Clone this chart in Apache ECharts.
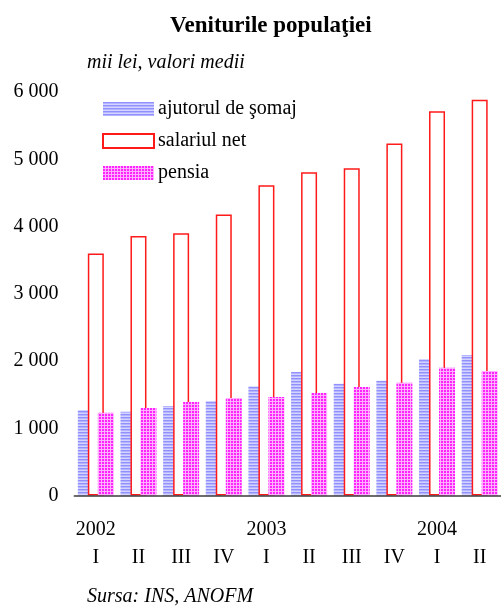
<!DOCTYPE html>
<html>
<head>
<meta charset="utf-8">
<script src="https://cdn.jsdelivr.net/npm/echarts@6/dist/echarts.min.js"></script>
<style>html,body{margin:0;padding:0;background:#fff}#c{width:501px;height:607px}</style>
</head>
<body>
<div id="c"></div>
<script>
var years = ['2002', '', '', '', '2003', '', '', '', '2004', ''];
var quarters = ['I', 'II', 'III', 'IV', 'I', 'II', 'III', 'IV', 'I', 'II'];
var ajutorul = [1270, 1245, 1330, 1405, 1625, 1835, 1660, 1705, 2030, 2090];
var salariul = [3600, 3860, 3900, 4180, 4615, 4805, 4865, 5235, 5715, 5885];
var pensia = [1230, 1300, 1390, 1450, 1465, 1525, 1615, 1675, 1900, 1850];
var yTicks = [0, 1000, 2000, 3000, 4000, 5000, 6000];

var categories = years.map(function (y, i) { return i + '|' + y + '|' + quarters[i]; });

function stripePattern() {
  var c = document.createElement('canvas');
  c.width = 4; c.height = 3;
  var g = c.getContext('2d');
  g.fillStyle = '#d4d4ff'; g.fillRect(0, 0, 4, 3);
  g.fillStyle = '#9090ff'; g.fillRect(0, 0, 4, 1);
  g.fillStyle = '#b4b4ff'; g.fillRect(0, 1, 4, 1);
  return c;
}
function gridPattern() {
  var c = document.createElement('canvas');
  c.width = 3; c.height = 3;
  var g = c.getContext('2d');
  g.fillStyle = '#ffb0ff'; g.fillRect(0, 0, 3, 3);
  g.fillStyle = '#ff22ff'; g.fillRect(0, 0, 2, 2);
  return c;
}

var chart = echarts.init(document.getElementById('c'));
var font = '"Liberation Serif", "Times New Roman", serif';
chart.setOption({
  animation: false,
  textStyle: { fontFamily: font },
  title: {
    text: 'Veniturile populaţiei',
    left: 165,
    top: 10,
    textStyle: { fontFamily: font, fontWeight: 'bold', fontSize: 23, color: '#000' }
  },
  graphic: [
    { type: 'text', left: 87, top: 53, style: { text: 'mii lei, valori medii', font: 'italic 20px ' + font, fill: '#000' } },
    { type: 'text', left: 87, top: 587, style: { text: 'Sursa: INS, ANOFM', font: 'italic 20px ' + font, fill: '#000' } }
  ],
  legend: {
    orient: 'vertical',
    left: 97,
    top: 94,
    itemWidth: 51,
    itemHeight: 14,
    itemGap: 12,
    icon: 'rect',
    textStyle: { fontFamily: font, fontSize: 20, color: '#000', padding: [0, 0, 0, -1] },
    data: ['ajutorul de şomaj', 'salariul net', 'pensia']
  },
  grid: { left: 74.5, width: 429, top: 92, height: 403.5, containLabel: false },
  xAxis: {
    type: 'category',
    data: categories,
    z: 5,
    axisLine: { show: true, lineStyle: { color: 'rgba(60,60,60,0.75)', width: 2 } },
    axisTick: { show: false },
    axisLabel: {
      interval: 0,
      margin: 20,
      formatter: function (v) {
        var p = v.split('|');
        return '{y|' + (p[1] || ' ') + '}\n{q|' + p[2] + '}';
      },
      rich: {
        y: { fontFamily: font, fontSize: 20, color: '#000', lineHeight: 28 },
        q: { fontFamily: font, fontSize: 20, color: '#000', lineHeight: 28 }
      }
    }
  },
  yAxis: {
    type: 'value',
    min: 0,
    max: 6000,
    interval: 1000,
    axisLine: { show: false },
    axisTick: { show: false },
    splitLine: { show: false },
    axisLabel: {
      margin: 16,
      fontFamily: font,
      fontSize: 20,
      color: '#000',
      formatter: function (v) { return String(v).replace(/\B(?=(\d{3})+(?!\d))/g, ' '); }
    }
  },
  series: [
    {
      name: 'ajutorul de şomaj', type: 'bar', data: ajutorul,
      barWidth: 16, barGap: '-37.5%',
      itemStyle: { color: { image: stripePattern(), repeat: 'repeat' } }
    },
    {
      name: 'salariul net', type: 'bar', data: salariul,
      barWidth: 16, barGap: '-37.5%',
      itemStyle: { color: '#ffffff', borderColor: '#ff1a1a', borderWidth: 1.5 }
    },
    {
      name: 'pensia', type: 'bar', data: pensia,
      barWidth: 16, barGap: '-37.5%',
      itemStyle: { color: { image: gridPattern(), repeat: 'repeat' } }
    }
  ]
});
</script>
</body>
</html>
